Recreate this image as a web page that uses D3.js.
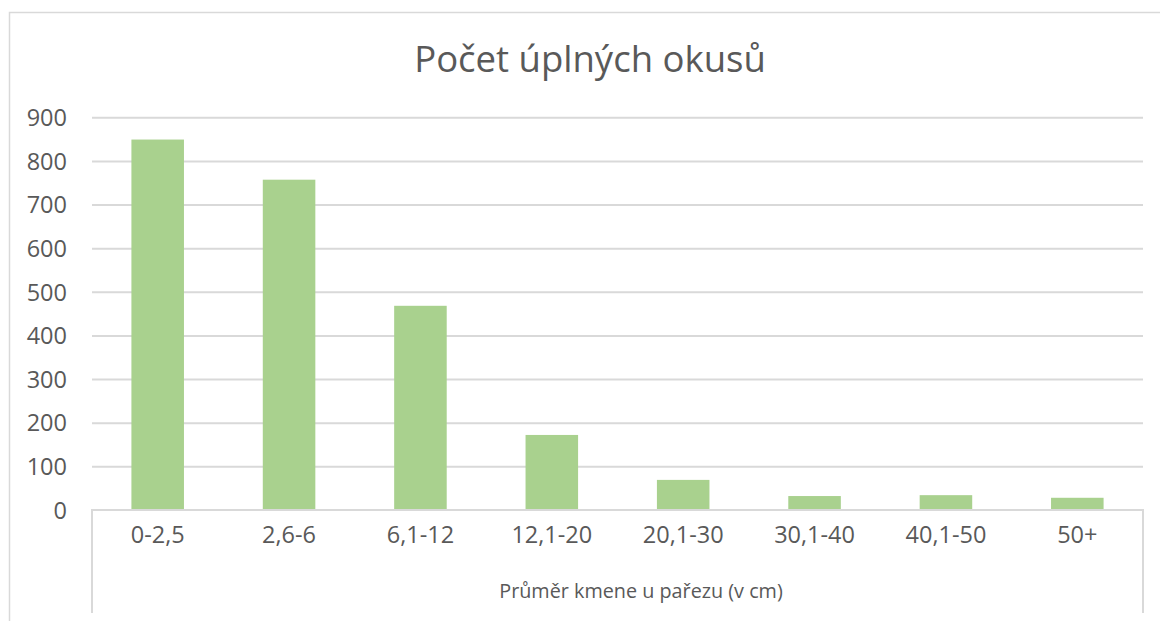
<!DOCTYPE html>
<html>
<head>
<meta charset="utf-8">
<script src="https://cdn.jsdelivr.net/npm/d3@7"></script>
<style>
  html, body { margin: 0; padding: 0; background: #fff; }
  svg { display: block; }
  text { font-family: "Open Sans", sans-serif; fill: #595959; }
</style>
</head>
<body>
<svg id="chart" width="1160" height="621"></svg>
<script>
const chartTitle = "Počet úplných okusů";
const xAxisTitle = "Průměr kmene u pařezu (v cm)";
const categories = ["0-2,5", "2,6-6", "6,1-12", "12,1-20", "20,1-30", "30,1-40", "40,1-50", "50+"];
const values = [849, 757, 468, 172, 69, 32, 34, 28];
const yTicks = [0, 100, 200, 300, 400, 500, 600, 700, 800, 900];

const svg = d3.select("#chart");
const W = 1160, H = 621;
const plot = { left: 92, right: 1143, top: 117.3, bottom: 510 };

// outer chart border (partially visible)
svg.append("path")
  .attr("d", `M9.5,${H} L9.5,12.5 L${W},12.5`)
  .attr("fill", "none").attr("stroke", "#D9D9D9").attr("stroke-width", 1.5);

const x = d3.scaleBand().domain(categories).range([plot.left, plot.right]).paddingInner(0.6).paddingOuter(0.3);
const y = d3.scaleLinear().domain([0, 900]).range([plot.bottom, plot.top]);

// gridlines
const grid = svg.append("g").attr("transform", `translate(${plot.left},0)`)
  .call(d3.axisLeft(y).tickValues(yTicks.filter(d => d > 0)).tickSize(-(plot.right - plot.left)).tickFormat(""));
grid.select(".domain").remove();
grid.selectAll(".tick line").attr("stroke", "#D9D9D9").attr("stroke-width", 2);

// y axis labels
const yAx = svg.append("g").attr("transform", `translate(67,0)`)
  .call(d3.axisLeft(y).tickValues(yTicks).tickSize(0).tickPadding(0));
yAx.select(".domain").remove();
yAx.selectAll(".tick text").style("font-size", "23.5px").attr("fill", "#595959").attr("dy", "0.35em");

// bars
svg.append("g").selectAll("rect").data(values).join("rect")
  .attr("x", (d, i) => x(categories[i]))
  .attr("width", x.bandwidth())
  .attr("y", d => y(d))
  .attr("height", d => y(0) - y(d))
  .attr("fill", "#A9D18E");

// x axis line with box extending down
svg.append("path")
  .attr("d", `M${plot.left},${H - 8} L${plot.left},${plot.bottom} L${plot.right},${plot.bottom} L${plot.right},${H - 8}`)
  .attr("fill", "none").attr("stroke", "#D9D9D9").attr("stroke-width", 2);

// x axis labels
const xAx = svg.append("g").attr("transform", `translate(0,${plot.bottom})`)
  .call(d3.axisBottom(x).tickSize(0).tickPadding(0));
xAx.select(".domain").remove();
xAx.selectAll(".tick text").style("font-size", "23.5px").attr("fill", "#595959").attr("y", 33).attr("dy", 0);

// title
svg.append("text").attr("x", 590).attr("y", 72).attr("text-anchor", "middle")
  .style("font-size", "36.5px").text(chartTitle);

// axis title
svg.append("text").attr("x", 641).attr("y", 598).attr("text-anchor", "middle")
  .style("font-size", "19.8px").text(xAxisTitle);
</script>
</body>
</html>
